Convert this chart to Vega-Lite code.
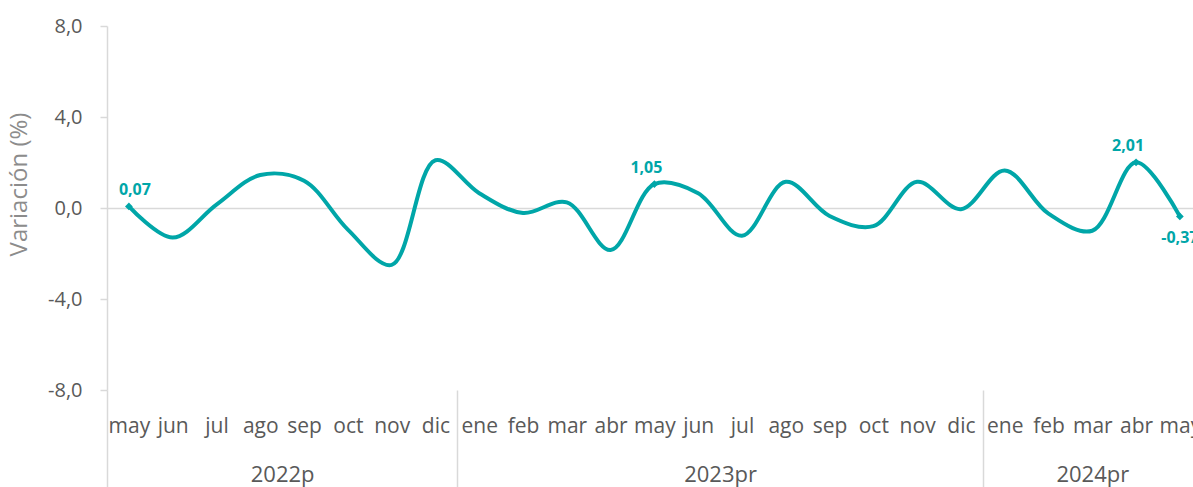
{
  "$schema": "https://vega.github.io/schema/vega-lite/v6.json",
  "width": 1086,
  "height": 364,
  "autosize": {"type": "none"},
  "padding": {"left": 107, "top": 26, "right": 0, "bottom": 97},
  "background": "white",
  "config": {
    "view": {"stroke": null},
    "font": "Open Sans",
    "locale": {"number": {"decimal": ",", "thousands": ".", "grouping": [3], "currency": ["", " €"], "minus": "-"}}
  },
  "data": {
    "values": [
      {"i": 0, "mes": "may", "anio": "2022p", "variacion": 0.07},
      {"i": 1, "mes": "jun", "anio": "2022p", "variacion": -1.3},
      {"i": 2, "mes": "jul", "anio": "2022p", "variacion": 0.15},
      {"i": 3, "mes": "ago", "anio": "2022p", "variacion": 1.45},
      {"i": 4, "mes": "sep", "anio": "2022p", "variacion": 1.2},
      {"i": 5, "mes": "oct", "anio": "2022p", "variacion": -0.95},
      {"i": 6, "mes": "nov", "anio": "2022p", "variacion": -2.5},
      {"i": 7, "mes": "dic", "anio": "2022p", "variacion": 2.1},
      {"i": 8, "mes": "ene", "anio": "2023pr", "variacion": 0.65},
      {"i": 9, "mes": "feb", "anio": "2023pr", "variacion": -0.22},
      {"i": 10, "mes": "mar", "anio": "2023pr", "variacion": 0.25},
      {"i": 11, "mes": "abr", "anio": "2023pr", "variacion": -1.85},
      {"i": 12, "mes": "may", "anio": "2023pr", "variacion": 1.05},
      {"i": 13, "mes": "jun", "anio": "2023pr", "variacion": 0.65},
      {"i": 14, "mes": "jul", "anio": "2023pr", "variacion": -1.22},
      {"i": 15, "mes": "ago", "anio": "2023pr", "variacion": 1.15},
      {"i": 16, "mes": "sep", "anio": "2023pr", "variacion": -0.35},
      {"i": 17, "mes": "oct", "anio": "2023pr", "variacion": -0.8},
      {"i": 18, "mes": "nov", "anio": "2023pr", "variacion": 1.15},
      {"i": 19, "mes": "dic", "anio": "2023pr", "variacion": -0.05},
      {"i": 20, "mes": "ene", "anio": "2024pr", "variacion": 1.65},
      {"i": 21, "mes": "feb", "anio": "2024pr", "variacion": -0.25},
      {"i": 22, "mes": "mar", "anio": "2024pr", "variacion": -1.0},
      {"i": 23, "mes": "abr", "anio": "2024pr", "variacion": 2.01},
      {"i": 24, "mes": "may", "anio": "2024pr", "variacion": -0.37}
    ]
  },
  "encoding": {
    "y": {
      "field": "variacion",
      "type": "quantitative",
      "scale": {"domain": [-8, 8], "nice": false, "zero": false},
      "axis": {
        "values": [-8, -4, 0, 4, 8],
        "format": ".1f",
        "labelFontSize": 20,
        "labelColor": "#595959",
        "labelPadding": 18,
        "tickSize": 7,
        "tickColor": "#d9d9d9",
        "tickWidth": 1.5,
        "domainColor": "#d9d9d9",
        "domainWidth": 1.5,
        "grid": true,
        "gridColor": "#d9d9d9",
        "gridWidth": 1.5,
        "gridOpacity": {"condition": {"test": "datum.value === 0", "value": 1}, "value": 0},
        "title": "Variación (%)",
        "titleFontSize": 24,
        "titleFontWeight": "normal",
        "titleColor": "#8c8c8c",
        "titleAngle": -90,
        "titleX": -88,
        "titleY": 158,
        "titleAlign": "center",
        "titleBaseline": "middle"
      }
    }
  },
  "layer": [
    {
      "mark": {"type": "line", "interpolate": "catmull-rom", "color": "#00A6A8", "strokeWidth": 4},
      "encoding": {
        "x": {
          "field": "i",
          "type": "quantitative",
          "scale": {"domain": [-0.5, 24.3], "nice": false, "zero": false},
          "axis": {
            "orient": "bottom",
            "values": [0, 1, 2, 3, 4, 5, 6, 7, 8, 9, 10, 11, 12, 13, 14, 15, 16, 17, 18, 19, 20, 21, 22, 23, 24],
            "labelExpr": "['may','jun','jul','ago','sep','oct','nov','dic','ene','feb','mar','abr','may','jun','jul','ago','sep','oct','nov','dic','ene','feb','mar','abr','may'][datum.value]",
            "labelFontSize": 21,
            "labelColor": "#595959",
            "labelPadding": 25,
            "labelOverlap": false,
            "labelBound": false,
            "labelFlush": false,
            "ticks": false,
            "domain": false,
            "grid": false,
            "title": null
          }
        }
      }
    },
    {
      "transform": [{"filter": {"field": "i", "oneOf": [0, 12, 23, 24]}}],
      "mark": {"type": "point", "shape": "diamond", "filled": true, "color": "#00A6A8", "size": 60, "opacity": 1},
      "encoding": {
        "x": {
          "field": "i",
          "type": "quantitative",
          "scale": {"domain": [-0.5, 24.3], "nice": false, "zero": false},
          "axis": {
            "orient": "bottom",
            "values": [-0.5, 3.5, 7.5, 13.5, 19.5, 22],
            "labelExpr": "datum.value == 3.5 ? '2022p' : datum.value == 13.5 ? '2023pr' : datum.value == 22 ? '2024pr' : ''",
            "labelFontSize": 22,
            "labelColor": "#595959",
            "labelPadding": -23,
            "labelOverlap": false,
            "labelBound": false,
            "labelFlush": false,
            "ticks": true,
            "tickSize": 97,
            "tickColor": "#d9d9d9",
            "tickWidth": 1.5,
            "tickOpacity": {"condition": {"test": "datum.value == 3.5 || datum.value == 13.5 || datum.value == 22", "value": 0}, "value": 1},
            "domain": false,
            "grid": false,
            "title": null
          }
        }
      }
    },
    {
      "transform": [{"filter": {"field": "i", "oneOf": [0]}}],
      "mark": {"type": "text", "color": "#00A6A8", "fontWeight": "bold", "fontSize": 16, "dy": -16, "dx": 6},
      "encoding": {
        "x": {"field": "i", "type": "quantitative", "scale": {"domain": [-0.5, 24.3], "nice": false, "zero": false}, "axis": null},
        "text": {"field": "variacion", "type": "quantitative", "format": ".2f"}
      }
    },
    {
      "transform": [{"filter": {"field": "i", "oneOf": [12, 23]}}],
      "mark": {"type": "text", "color": "#00A6A8", "fontWeight": "bold", "fontSize": 16, "dy": -16, "dx": -8},
      "encoding": {
        "x": {"field": "i", "type": "quantitative", "scale": {"domain": [-0.5, 24.3], "nice": false, "zero": false}, "axis": null},
        "text": {"field": "variacion", "type": "quantitative", "format": ".2f"}
      }
    },
    {
      "transform": [{"filter": {"field": "i", "oneOf": [24]}}],
      "mark": {"type": "text", "color": "#00A6A8", "fontWeight": "bold", "fontSize": 16, "dy": 22},
      "encoding": {
        "x": {"field": "i", "type": "quantitative", "scale": {"domain": [-0.5, 24.3], "nice": false, "zero": false}, "axis": null},
        "text": {"field": "variacion", "type": "quantitative", "format": ".2f"}
      }
    }
  ],
  "resolve": {"scale": {"x": "independent"}, "axis": {"x": "independent"}}
}
